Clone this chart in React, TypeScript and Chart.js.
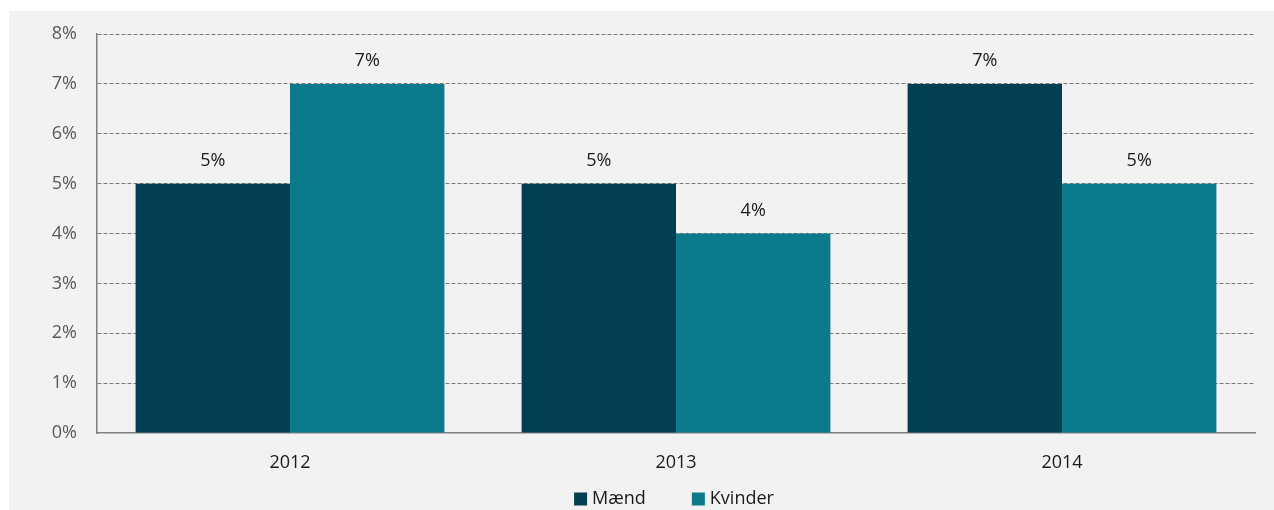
import React, { useEffect, useRef } from "react";
import { Chart, registerables } from "chart.js";

Chart.register(...registerables);

const categories = ["2012", "2013", "2014"];
const maendValues = [5, 5, 7];
const kvinderValues = [7, 4, 5];
const seriesNames = ["Mænd", "Kvinder"];
const seriesColors = ["#023F50", "#0B7A8A"];
const yTicks = [0, 1, 2, 3, 4, 5, 6, 7, 8];

const FONT = "'Open Sans', sans-serif";

const dataLabelPlugin = {
  id: "dataLabels",
  afterDatasetsDraw(chart: any) {
    const ctx = chart.ctx;
    ctx.save();
    ctx.font = `18px ${FONT}`;
    ctx.fillStyle = "#1a1a1a";
    ctx.textAlign = "center";
    ctx.textBaseline = "middle";
    chart.data.datasets.forEach((ds: any, i: number) => {
      const meta = chart.getDatasetMeta(i);
      meta.data.forEach((bar: any, j: number) => {
        ctx.fillText(`${ds.data[j]}%`, bar.x, bar.y - 23);
      });
    });
    ctx.restore();
  },
};

const legendPlugin = {
  id: "bottomLegend",
  afterDraw(chart: any) {
    const ctx = chart.ctx;
    const area = chart.chartArea;
    ctx.save();
    ctx.font = `18px ${FONT}`;
    ctx.textBaseline = "middle";
    ctx.textAlign = "left";
    const box = 13;
    const gap = 5;
    const spacing = 46;
    const items = chart.data.datasets.map((ds: any) => ({
      text: ds.label,
      color: ds.backgroundColor,
      w: ctx.measureText(ds.label).width,
    }));
    let total = 0;
    items.forEach((it: any, i: number) => {
      total += box + gap + it.w + (i < items.length - 1 ? spacing : 0);
    });
    let x = (area.left + area.right) / 2 - 2 - total / 2;
    const yc = area.bottom + 66;
    items.forEach((it: any) => {
      ctx.fillStyle = it.color;
      ctx.fillRect(x, yc - box / 2, box, box);
      ctx.fillStyle = "#1a1a1a";
      ctx.fillText(it.text, x + box + gap, yc);
      x += box + gap + it.w + spacing;
    });
    ctx.restore();
  },
};

export default function App() {
  const ref = useRef<HTMLCanvasElement | null>(null);
  useEffect(() => {
    if (!ref.current) return;
    const chart = new Chart(ref.current, {
      type: "bar",
      data: {
        labels: categories,
        datasets: [
          {
            label: seriesNames[0],
            data: maendValues,
            backgroundColor: seriesColors[0],
            categoryPercentage: 0.8,
            barPercentage: 1,
          },
          {
            label: seriesNames[1],
            data: kvinderValues,
            backgroundColor: seriesColors[1],
            categoryPercentage: 0.8,
            barPercentage: 1,
          },
        ],
      },
      options: {
        animation: false,
        responsive: true,
        maintainAspectRatio: false,
        layout: { padding: { top: 23, right: 19, left: 0, bottom: 0 } },
        plugins: {
          tooltip: { enabled: false },
          legend: { display: false },
        },
        scales: {
          x: {
            grid: { display: false, drawTicks: false },
            border: { display: true, color: "#7f7f7f", width: 1.5 },
            ticks: { color: "#1a1a1a", font: { family: FONT, size: 18 }, padding: 19 },
            afterFit: (s: any) => {
              s.height = 77;
              s.paddingLeft = 0;
              s.paddingRight = 0;
            },
          },
          y: {
            min: 0,
            max: 8,
            afterBuildTicks: (s: any) => {
              s.ticks = yTicks.map((v) => ({ value: v }));
            },
            grid: {
              drawTicks: false,
              color: (c: any) => (c.tick && c.tick.value === 0 ? "rgba(0,0,0,0)" : "#7a7a7a"),
              lineWidth: 1,
            },
            border: { display: true, color: "#7f7f7f", width: 1.5, dash: [4, 2] },
            ticks: {
              color: "#595959",
              font: { family: FONT, size: 18 },
              padding: 20,
              callback: (v: any) => `${v}%`,
            },
            afterFit: (s: any) => {
              s.width = 88;
              s.paddingTop = 0;
              s.paddingBottom = 0;
            },
          },
        },
      },
      plugins: [dataLabelPlugin, legendPlugin],
    } as any);
    return () => chart.destroy();
  }, []);

  return (
    <div
      style={{
        position: "fixed",
        left: 0,
        top: 0,
        width: 1274,
        height: 510,
        background: "#ffffff",
        overflow: "hidden",
      }}
    >
      <div
        style={{
          position: "absolute",
          left: 9,
          top: 11,
          width: 1265,
          height: 499,
          background: "#f2f2f2",
          overflow: "hidden",
        }}
      >
        <div style={{ position: "absolute", left: 0, top: 0, width: 1265, height: 499 }}>
          <canvas ref={ref} />
        </div>
      </div>
    </div>
  );
}
